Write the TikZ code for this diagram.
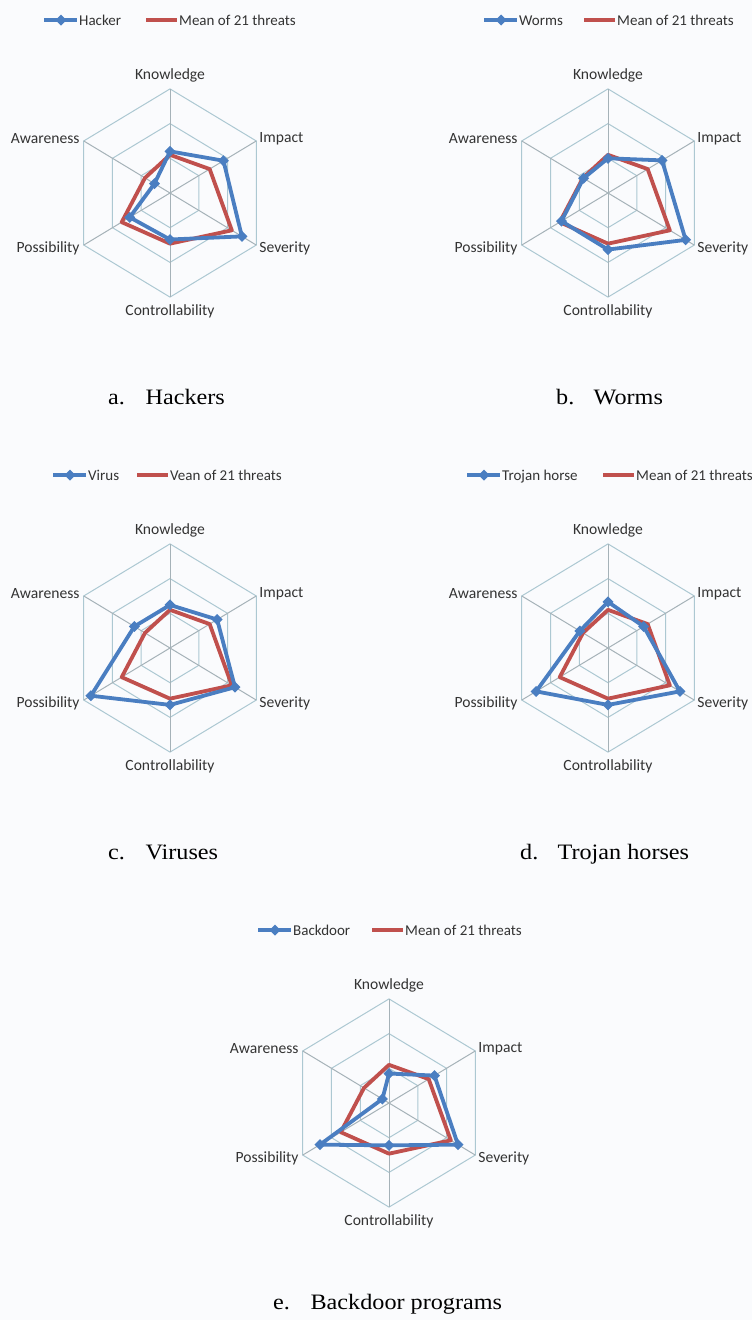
\documentclass[tikz,border=0pt]{standalone}
\usepackage{fontspec}
\setmainfont{Liberation Serif}
\newfontfamily\chartfont{Carlito}
\usetikzlibrary{positioning}

\definecolor{threatblue}{RGB}{74,126,193}
\definecolor{meanred}{RGB}{192,80,77}
\definecolor{gridblue}{RGB}{172,200,210}
\definecolor{spokegray}{RGB}{165,178,184}
\definecolor{paper}{RGB}{250,251,253}

\tikzset{
  ring/.style={draw=gridblue, line width=1pt},
  spoke/.style={draw=spokegray, line width=1pt},
  threatline/.style={threatblue, line width=3.8pt, line join=round},
  meanline/.style={meanred, line width=3.8pt, line join=round},
  axlab/.style={font=\chartfont\fontsize{15.6}{16}\selectfont, text=black!80, inner sep=1pt},
  legtext/.style={font=\chartfont\fontsize{15}{15}\selectfont, text=black!80, inner sep=0pt, anchor=base west},
  capt/.style={font=\fontsize{22}{22}\selectfont, inner sep=0pt, anchor=base west}
}

\def\dmark{+(0,-5.5pt) -- +(5.5pt,0) -- +(0,5.5pt) -- +(-5.5pt,0) -- cycle}
\newcommand\capline[2]{\scalebox{1.1}[1]{\makebox[34pt][l]{#1}#2}}

% #1 name, #2 centre, #3..#8 knowledge, impact, severity, controllability, possibility, awareness
\newcommand\radarchart[8]{%
  \begin{scope}[shift={#2}, x=33.2pt, y=34.7pt]
    \foreach \r in {1,2,3}
      \draw[ring] (90:\r) -- (30:\r) -- (-30:\r) -- (-90:\r) -- (210:\r) -- (150:\r) -- cycle;
    \foreach \a in {90,30,...,-210}
      \draw[spoke] (0,0) -- (\a:3);
    \node[axlab, above=6pt] (#1-know) at (90:3) {Knowledge};
    \node[axlab, right=2pt, yshift=2pt] (#1-imp) at (30:3) {Impact};
    \node[axlab, right=2pt, yshift=-3pt] (#1-sev) at (-30:3) {Severity};
    \node[axlab, below=6pt] (#1-ctrl) at (-90:3) {Controllability};
    \node[axlab, left=3pt, yshift=-3pt] (#1-poss) at (210:3) {Possibility};
    \node[axlab, left=3pt, yshift=2pt] (#1-aware) at (150:3) {Awareness};
    \draw[meanline] (90:1.1) -- (30:1.38) -- (-30:2.15) -- (-90:1.46) -- (210:1.68) -- (150:0.87) -- cycle;
    \draw[threatline] (90:#3) -- (30:#4) -- (-30:#5) -- (-90:#6) -- (210:#7) -- (150:#8) -- cycle;
    \foreach \a/\v in {90/#3, 30/#4, -30/#5, -90/#6, 210/#7, 150/#8}
      \fill[threatblue] (\a:\v) \dmark;
  \end{scope}}

% #1 name, #2 y, #3 x of blue sample, #4 threat, #5 x of red sample, #6 mean text
\newcommand\chartkey[6]{%
  \coordinate (#1-b0) at (#3pt,#2pt);
  \coordinate (#1-b1) at ([xshift=33pt]#1-b0);
  \draw[threatline, line width=3.4pt] (#1-b0) -- (#1-b1);
  \fill[threatblue] ([xshift=17pt]#1-b0) \dmark;
  \node[legtext] (#1-ltxt) at ([xshift=35pt,yshift=-5pt]#1-b0) {#4};
  \coordinate (#1-r0) at (#5pt,#2pt);
  \coordinate (#1-r1) at ([xshift=31pt]#1-r0);
  \draw[meanline, line width=3.4pt] (#1-r0) -- (#1-r1);
  \node[legtext] (#1-lmean) at ([xshift=33pt,yshift=-5pt]#1-r0) {#6};}

\begin{document}
\begin{tikzpicture}[x=1pt, y=1pt]
  \fill[paper] (0,0) rectangle (752,-1320);
  \useasboundingbox (0,0) rectangle (752,-1320);

  % a. hackers
  \chartkey{a}{-20}{44}{Hacker}{146}{Mean of 21 threats}
  \radarchart{a}{(170pt,-193pt)}{1.2}{1.86}{2.5}{1.34}{1.4}{0.54}
  \node[capt] (a-cap) at (108,-404) {\capline{a.}{Hackers}};

  % b. worms
  \chartkey{b}{-20}{484}{Worms}{584}{Mean of 21 threats}
  \radarchart{b}{(608pt,-193pt)}{1.0}{1.88}{2.7}{1.63}{1.62}{0.85}
  \node[capt] (b-cap) at (556,-404) {\capline{b.}{Worms}};

  % c. viruses
  \chartkey{c}{-475}{53}{Virus}{137}{Vean of 21 threats}
  \radarchart{c}{(170pt,-648pt)}{1.24}{1.64}{2.26}{1.64}{2.75}{1.24}
  \node[capt] (c-cap) at (108,-859) {\capline{c.}{Viruses}};

  % d. trojan horses
  \chartkey{d}{-475}{467}{Trojan horse}{603}{Mean of 21 threats}
  \radarchart{d}{(608pt,-648pt)}{1.33}{1.24}{2.5}{1.64}{2.5}{0.98}
  \node[capt] (d-cap) at (520,-859) {\capline{d.}{Trojan horses}};

  % e. backdoor programs
  \chartkey{e}{-930}{258}{Backdoor}{372}{Mean of 21 threats}
  \radarchart{e}{(389pt,-1103pt)}{0.85}{1.58}{2.4}{1.22}{2.4}{0.23}
  \node[capt] (e-cap) at (273,-1309) {\capline{e.}{Backdoor programs}};
\end{tikzpicture}
\end{document}
